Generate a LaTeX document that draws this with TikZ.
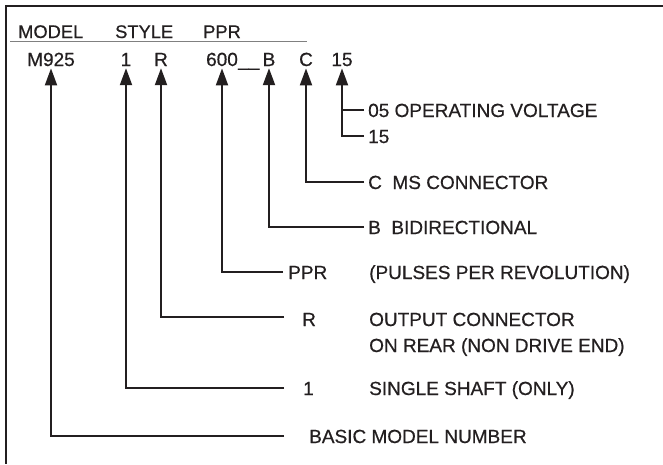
\documentclass[tikz,border=0pt]{standalone}
\usepackage{fontspec}
\setmainfont{Liberation Sans}[FakeBold=0.6]
\usetikzlibrary{arrows.meta}
\definecolor{ink}{HTML}{231F20}
\tikzset{
  lbl/.style={anchor=base west, inner sep=0pt, text=ink, font=\fontsize{19}{19}\selectfont},
  head/.style={lbl, font=\fontsize{18.3}{18}\selectfont},
  code/.style={anchor=base, inner sep=0pt, text=ink, font=\fontsize{19}{19}\selectfont},
  lead/.style={ink, line width=2pt},
  tip/.style={lead, shorten >=2pt, -{Triangle[length=17pt,width=12pt]}}
}
\begin{document}
\begin{tikzpicture}[x=1pt,y=-1pt]
\pgfmathsetmacro{\yh}{38}
\pgfmathsetmacro{\yc}{66}
\pgfmathsetmacro{\xl}{368}
\pgfmathsetmacro{\xe}{364}
\pgfmathsetmacro{\xs}{284}
\useasboundingbox (0,0) rectangle (663,464);
  \draw[lead](663,6)--(6,6)--(6,464);
  % header and code
  \node[head] (hmodel) at (18,\yh) {MODEL};
  \node[head] (hstyle) at (115,\yh) {STYLE};
  \node[head] (hppr) at (203,\yh) {PPR};
  \draw[gray,line width=1pt](10,41)--(307,41);
  \node[code] (m925) at (51,\yc) {M925};
  \node[code] (style) at (126,\yc) {1};
  \node[code] (rear) at (161,\yc) {R};
  \node[code] (ppr) at (222,\yc) {600};
  \node[lbl] (gap) at (ppr.base east) {\_\_};
  \node[code] (bidir) at (269,\yc) {B};
  \node[code] (ms) at (306,\yc) {C};
  \node[code] (volt) at (342,\yc) {15};
  % legend
  \node[lbl] (t05) at (\xl,117) {05 OPERATING VOLTAGE};
  \node[lbl] (t15) at (\xl,143) {15};
  \node[lbl] (tms) at (\xl,189) {C\ \ MS CONNECTOR};
  \node[lbl] (tbd) at (\xl,234) {B\ \ BIDIRECTIONAL};
  \node[lbl] (tppr) at (288,279) {PPR};
  \node[lbl] (tpulse) at (369,279) {(PULSES PER REVOLUTION)};
  \node[lbl] (tr) at (302,326) {R};
  \node[lbl] (tout) at (369,326) {OUTPUT CONNECTOR};
  \node[lbl] (trear) at (369,352) {ON REAR (NON DRIVE END)};
  \node[lbl] (t1) at (303,395) {1};
  \node[lbl] (tshaft) at (369,395) {SINGLE SHAFT (ONLY)};
  \node[lbl] (tbasic) at (309,443) {BASIC MODEL NUMBER};
  % leaders
  \coordinate (e05) at (\xe,110);
  \coordinate (e15) at (\xe,136);
  \coordinate (ems) at (\xe,182);
  \coordinate (ebd) at (\xe,227);
  \coordinate (eppr) at (283,272);
  \coordinate (erear) at (\xs,317);
  \coordinate (estyle) at (\xs,388);
  \coordinate (ebasic) at (\xs,436);
  \draw[lead](e05)--(e05-|volt.south);
  \draw[tip](e15)-|(volt.south);
  \draw[tip](ems)-|(ms.south);
  \draw[tip](ebd)-|(bidir.south);
  \draw[tip](eppr)-|(ppr.south);
  \draw[tip](erear)-|(rear.south);
  \draw[tip](estyle)-|(style.south);
  \draw[tip](ebasic)-|(m925.south);
\end{tikzpicture}
\end{document}
